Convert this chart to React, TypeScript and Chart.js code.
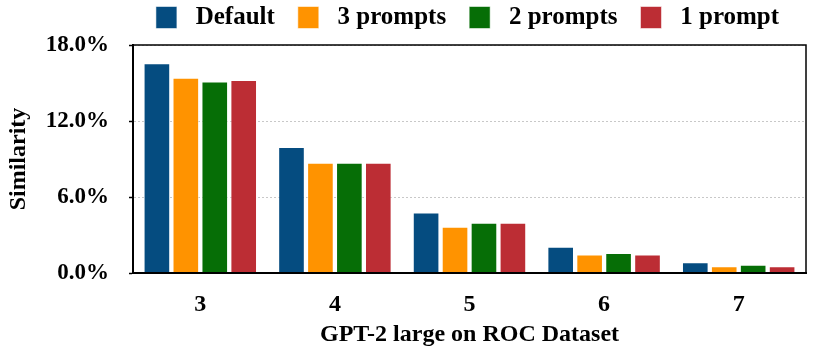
import React, { useEffect, useRef } from "react";
import { Chart, registerables } from "chart.js";

Chart.register(...registerables);

const categories = ["3", "4", "5", "6", "7"];
const seriesNames = ["Default", "3 prompts", "2 prompts", "1 prompt"];
const defaultValues = [16.55, 9.95, 4.77, 2.07, 0.84];
const threePrompts = [15.42, 8.7, 3.65, 1.47, 0.53];
const twoPrompts = [15.12, 8.7, 3.96, 1.57, 0.66];
const onePrompt = [15.23, 8.7, 3.96, 1.47, 0.53];
const colors = ["#054c80", "#ff9300", "#066e06", "#bc2d34"];
const yTicks = [0, 6, 12, 18];

const FONT = "'Liberation Serif', 'Times New Roman', serif";

const framePlugin = {
  id: "frame",
  afterLayout(chart: any) {
    const lg = chart.legend;
    if (lg) {
      lg.left = chart.chartArea.left - 24;
      lg.right = chart.chartArea.right + 20;
      lg.top -= 5;
      lg.bottom -= 5;
    }
  },
  afterDraw(chart: any) {
    const { ctx, chartArea } = chart;
    ctx.save();
    ctx.strokeStyle = "#000";
    ctx.lineWidth = 1.5;
    ctx.strokeRect(chartArea.left, chartArea.top, chartArea.right - chartArea.left, chartArea.bottom - chartArea.top);
    ctx.lineWidth = 2;
    ctx.beginPath();
    ctx.moveTo(chartArea.left, chartArea.top);
    ctx.lineTo(chartArea.left, chartArea.bottom);
    ctx.lineTo(chartArea.right, chartArea.bottom);
    ctx.stroke();
    ctx.restore();
  },
};

export default function App() {
  const ref = useRef<HTMLCanvasElement>(null);
  useEffect(() => {
    const values = [defaultValues, threePrompts, twoPrompts, onePrompt];
    const chart = new Chart(ref.current as HTMLCanvasElement, {
      type: "bar",
      data: {
        labels: categories,
        datasets: seriesNames.map((name, i) => ({
          label: name,
          data: values[i],
          backgroundColor: colors[i],
          borderColor: "rgba(255,255,255,0.55)",
          borderWidth: 1,
          barPercentage: 0.92,
          categoryPercentage: 0.86,
        })),
      },
      options: {
        animation: false,
        responsive: false,
        layout: { padding: { left: 4, right: 8, top: -13, bottom: 0 } },
        plugins: {
          tooltip: { enabled: false },
          legend: {
            position: "top",
            labels: {
              boxWidth: 21,
              boxHeight: 22,
              padding: 23,
              color: "#000",
              font: { family: FONT, size: 25, weight: "bold" },
              generateLabels: (chart: any) =>
                Chart.defaults.plugins.legend.labels
                  .generateLabels(chart)
                  .map((item: any) => ({ ...item, text: " " + item.text })),
            },
          },
        },
        scales: {
          x: {
            afterFit: (axis: any) => {
              axis.height = 76;
            },
            grid: { display: false },
            border: { display: true, color: "#000", width: 2 },
            ticks: {
              color: "#000",
              padding: 9,
              font: { family: FONT, size: 24, weight: "bold" },
            },
            title: {
              display: true,
              text: "GPT-2 large on ROC Dataset",
              color: "#000",
              padding: { top: 0, bottom: 0 },
              font: { family: FONT, size: 24, weight: "bold" },
            },
          },
          y: {
            min: 0,
            max: 18,
            afterBuildTicks: (axis: any) => {
              axis.ticks = yTicks.map((v) => ({ value: v }));
            },
            afterFit: (axis: any) => {
              axis.width = 129;
            },
            grid: {
              color: "#c8c8c8",
              lineWidth: 1,
              tickColor: "#000",
              tickLength: 4,
              tickWidth: 1.5,
            },
            border: { display: true, color: "#000", width: 2, dash: [2, 2] },
            ticks: {
              color: "#000",
              padding: 20,
              font: { family: FONT, size: 23, weight: "bold" },
              callback: (v: any) => Number(v).toFixed(1) + "%",
            },
            title: {
              display: true,
              text: "Similarity",
              color: "#000",
              padding: { top: 0, bottom: 0 },
              font: { family: FONT, size: 24, weight: "bold" },
            },
          },
        },
      },
      plugins: [framePlugin],
    } as any);
    return () => chart.destroy();
  }, []);
  return (
    <div style={{ position: "absolute", left: 0, top: 0, width: 814, height: 349, background: "#fff" }}>
      <canvas ref={ref} width={814} height={349} style={{ width: 814, height: 349 }} />
    </div>
  );
}
